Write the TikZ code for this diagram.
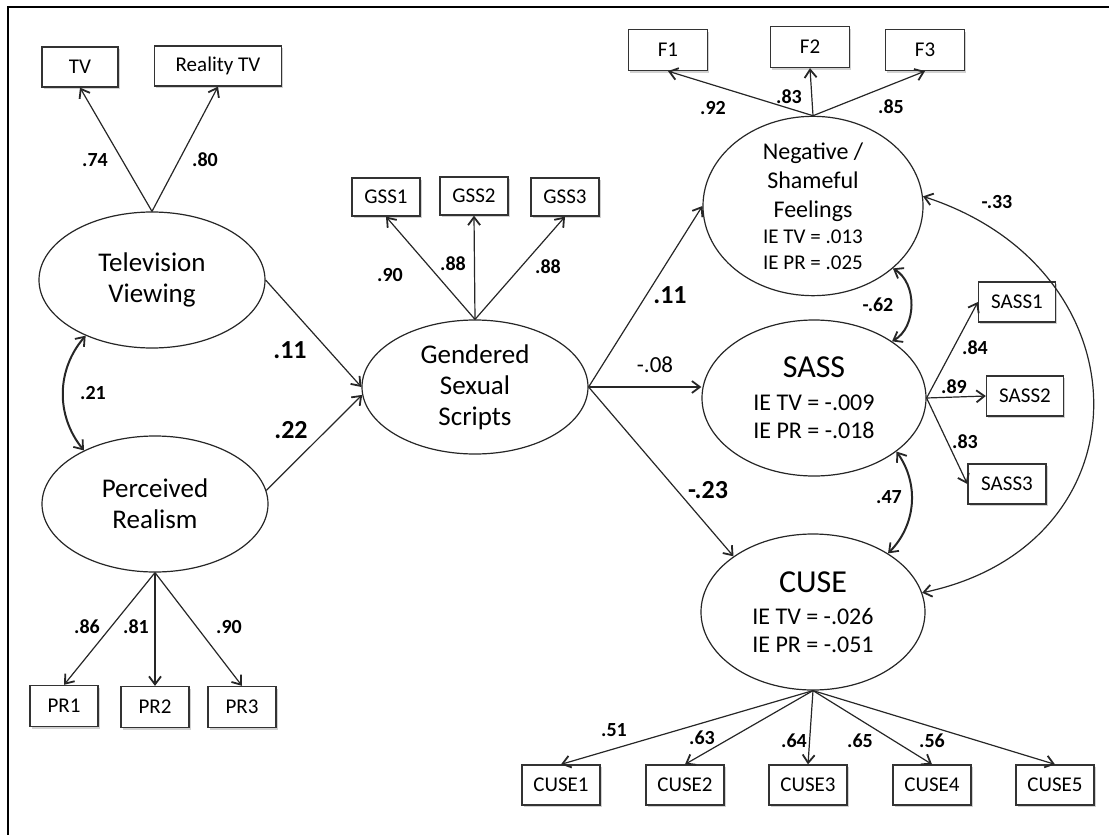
\documentclass[tikz,border=0pt]{standalone}
\usepackage{fontspec}
\setmainfont{Carlito}
\usetikzlibrary{arrows.meta, shapes.geometric, shadows}
\tikzset{
  indicator/.style={rectangle, draw=black!80, line width=1.3pt, fill=white,
    minimum width=68pt, minimum height=40pt, inner sep=0pt,
    font=\fontsize{21}{24}\selectfont,
    drop shadow={shadow xshift=1.5pt, shadow yshift=-2pt, fill=black, opacity=0.18}},
  latent/.style={ellipse, draw=black!85, line width=1.2pt, fill=white, inner sep=0pt,
    minimum width=226pt, minimum height=136pt, align=center,
    font=\fontsize{27}{31}\selectfont},
  tipbarb/.tip={Straight Barb[length=8pt, width=12pt, line width=1.8pt]},
  loading/.style={-tipbarb, line width=1.2pt, draw=black!85},
  covar/.style={tipbarb-tipbarb, line width=2pt, draw=black!85},
  coef/.style={font=\bfseries\fontsize{20}{22}\selectfont, inner sep=1pt},
  bigcoef/.style={font=\bfseries\fontsize{26}{28}\selectfont, inner sep=1pt}
}
\begin{document}
\begin{tikzpicture}[x=1pt, y=-1pt]
\useasboundingbox (0,0) rectangle (1109,835);
\draw[line width=2.5pt] (8,845) -- (8,7) -- (1120,7);

%% Latent variables
\node[latent] (telev) at (152,280) {Television\\Viewing};
\node[latent] (percr) at (155,504) {Perceived\\Realism};
\node[latent, minimum height=134pt] (gss) at (475,387) {Gendered\\Sexual\\Scripts};
\node[latent, minimum width=220pt, minimum height=156pt, font=\fontsize{24}{29}\selectfont] (neg) at (813,206)
  {Negative /\\Shameful\\Feelings\\[-3pt]\fontsize{21}{26}\selectfont IE TV = .013\\[-3pt]\fontsize{21}{26}\selectfont IE PR = .025};
\node[latent, minimum width=224pt, minimum height=156pt, font=\fontsize{24}{28}\selectfont] (sass) at (814,398)
  {\fontsize{32}{36}\selectfont SASS\\[5pt]\fontsize{24}{28}\selectfont IE TV = -.009\\\fontsize{24}{28}\selectfont IE PR = -.018};
\node[latent, minimum width=224pt, minimum height=156pt, font=\fontsize{24}{28}\selectfont] (cuse) at (813,612)
  {\fontsize{32}{36}\selectfont CUSE\\[4pt]\fontsize{24}{28}\selectfont IE TV = -.026\\\fontsize{24}{28}\selectfont IE PR = -.051};

%% Indicators
\node[indicator, minimum width=76pt] (tv) at (80,67) {TV};
\node[indicator, minimum width=127pt] (rtv) at (218,66) {Reality TV};
\node[indicator, minimum height=41pt] (pr1) at (64,706) {PR1};
\node[indicator, minimum height=41pt] (pr2) at (155,707) {PR2};
\node[indicator, minimum height=41pt] (pr3) at (242,707) {PR3};
\node[indicator, minimum height=38pt] (gss1) at (386,197) {GSS1};
\node[indicator, minimum height=38pt] (gss2) at (474,196) {GSS2};
\node[indicator, minimum height=38pt] (gss3) at (565,197) {GSS3};
\node[indicator, minimum width=79pt, minimum height=41pt] (f1) at (668,50) {F1};
\node[indicator, minimum width=79pt, minimum height=41pt] (f2) at (810,47) {F2};
\node[indicator, minimum width=79pt, minimum height=41pt] (f3) at (925,50) {F3};
\node[indicator, minimum width=77pt] (sass1) at (1017,302) {SASS1};
\node[indicator, minimum width=77pt] (sass2) at (1025,396) {SASS2};
\node[indicator, minimum width=78pt] (sass3) at (1007,484) {SASS3};
\node[indicator, minimum width=78pt] (cuse1) at (561,785) {CUSE1};
\node[indicator, minimum width=78pt] (cuse2) at (685,785) {CUSE2};
\node[indicator, minimum width=78pt] (cuse3) at (808,785) {CUSE3};
\node[indicator, minimum width=78pt] (cuse4) at (932,785) {CUSE4};
\node[indicator, minimum width=78pt] (cuse5) at (1055,785) {CUSE5};

%% Loadings
\draw[loading] (telev.north) -- (tv.south);
\draw[loading] (telev.north) -- (rtv.south);
\draw[loading] (percr.south) -- (pr1.north);
\draw[loading] (percr.south) -- (pr2.north);
\draw[loading] (percr.south) -- (pr3.north);
\draw[loading] (gss.north) -- (gss1.south);
\draw[loading] (gss.north) -- (gss2.south);
\draw[loading] (gss.north) -- (gss3.south);
\draw[loading] (neg.north) -- (f1.south);
\draw[loading] (neg.north) -- (f2.south);
\draw[loading] (neg.north) -- (f3.south);
\draw[loading] (sass.east) -- (sass1.west);
\draw[loading] (sass.east) -- (sass2.west);
\draw[loading] (sass.east) -- (sass3.west);
\draw[loading] (cuse.south) -- (cuse1.north);
\draw[loading] (cuse.south) -- (cuse2.north);
\draw[loading] (cuse.south) -- (cuse3.north);
\draw[loading] (cuse.south) -- (cuse4.north);
\draw[loading] (cuse.south) -- (cuse5.north);

%% Structural paths
\draw[loading] (telev.east) -- (gss.west);
\draw[loading] (percr.7) -- (gss.184);
\draw[loading] (gss.east) -- (neg.west);
\draw[loading] (gss.east) -- (gss.east -| sass.west);
\draw[loading] (gss.east) -- (cuse.145);

%% Covariances
\draw[covar] (telev.-140) to[bend right=40] (percr.143);
\draw[covar] (neg.-38) to[bend left=60] (sass.36);
\draw[covar] (sass.-33) to[bend left=40] (cuse.38);
\draw[covar, line width=1.2pt] (neg.5) .. controls (1150,270) and (1150,545) .. (cuse.10);

%% Coefficients
\node[coef] (c-tv) at (95,160) {.74};
\node[coef] (c-rtv) at (205,160) {.80};
\node[coef] (c-cov1) at (93,393) {.21};
\node[bigcoef] (c-tvg) at (290,350) {.11};
\node[bigcoef] (c-prg) at (291,430) {.22};
\node[coef] (c-pr1) at (87,627) {.86};
\node[coef] (c-pr2) at (136,627) {.81};
\node[coef] (c-pr3) at (229,627) {.90};
\node[coef] (c-gss1) at (390,275) {.90};
\node[coef] (c-gss2) at (453,264) {.88};
\node[coef] (c-gss3) at (548,267) {.88};
\node[bigcoef] (c-gneg) at (670,295) {.11};
\node[font=\fontsize{23}{25}\selectfont, inner sep=1pt] (c-gsass) at (655,365) {-.08};
\node[bigcoef] (c-gcuse) at (708,490) {-.23};
\node[coef] (c-f1) at (713,108) {.92};
\node[coef] (c-f2) at (789,97) {.83};
\node[coef] (c-f3) at (891,107) {.85};
\node[coef] (c-cov4) at (997,202) {-.33};
\node[coef] (c-cov2) at (878,305) {-.62};
\node[coef] (c-s1) at (975,348) {.84};
\node[coef] (c-s2) at (954,387) {.89};
\node[coef] (c-s3) at (965,442) {.83};
\node[coef] (c-cov3) at (889,497) {.47};
\node[coef] (c-cu1) at (614,730) {.51};
\node[coef] (c-cu2) at (702,738) {.63};
\node[coef] (c-cu3) at (794,741) {.64};
\node[coef] (c-cu4) at (860,741) {.65};
\node[coef] (c-cu5) at (932,741) {.56};
\end{tikzpicture}
\end{document}
